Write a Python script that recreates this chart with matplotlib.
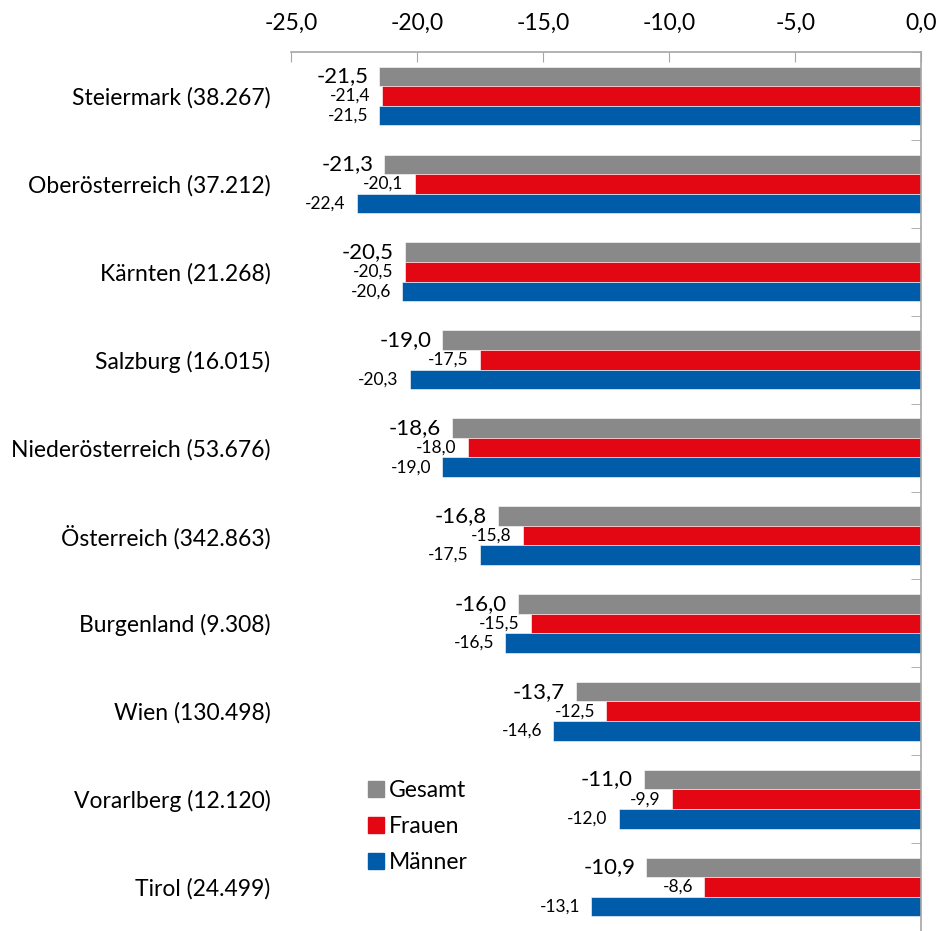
"""Decline by Bundesland, broken down into total, women and men."""
import matplotlib
matplotlib.use("Agg")

import matplotlib.pyplot as plt
import numpy as np
from matplotlib.patches import Patch
from matplotlib.ticker import FixedLocator, FuncFormatter

plt.rcParams["font.family"] = ["Lato", "DejaVu Sans"]

_GESAMT = "#898989"
_FRAUEN = "#e30613"
_MAENNER = "#005ca9"
_AXIS = "#a6a6a6"

REGIONS = [
    "Steiermark (38.267)",
    "Oberösterreich (37.212)",
    "Kärnten (21.268)",
    "Salzburg (16.015)",
    "Niederösterreich (53.676)",
    "Österreich (342.863)",
    "Burgenland (9.308)",
    "Wien (130.498)",
    "Vorarlberg (12.120)",
    "Tirol (24.499)",
]
GESAMT = [-21.5, -21.3, -20.5, -19.0, -18.6, -16.8, -16.0, -13.7, -11.0, -10.9]
FRAUEN = [-21.4, -20.1, -20.5, -17.5, -18.0, -15.8, -15.5, -12.5, -9.9, -8.6]
MAENNER = [-21.5, -22.4, -20.6, -20.3, -19.0, -17.5, -16.5, -14.6, -12.0, -13.1]
X_TICKS = [-25, -20, -15, -10, -5, 0]


def de(v):
    return f"{v:.1f}".replace(".", ",")


fig = plt.figure(figsize=(9.39, 9.31), dpi=100)
ax = fig.add_axes([0.31, 0.0, 0.671, 0.944])

y = np.arange(len(REGIONS))
h = 0.223
series = [
    (GESAMT, _GESAMT, -h, 16),
    (FRAUEN, _FRAUEN, 0.0, 12.5),
    (MAENNER, _MAENNER, h, 12.5),
]
for values, colour, off, fs in series:
    ax.barh(y + off, values, height=h, color=colour, edgecolor="white",
            linewidth=0.4)
    for yi, v in zip(y, values):
        ax.annotate(de(v), (v, yi + off), xytext=(-8, 0),
                    textcoords="offset points", ha="right", va="center",
                    fontsize=fs, color="black")

ax.set_xlim(-25, 0)
ax.set_ylim(len(REGIONS) - 0.5, -0.5)

ax.xaxis.set_ticks_position("top")
ax.xaxis.set_major_locator(FixedLocator(X_TICKS))
ax.xaxis.set_major_formatter(FuncFormatter(lambda v, _: de(v)))
ax.tick_params(axis="x", direction="in", length=7, color=_AXIS, pad=13,
               labelsize=16.5)

ax.set_yticks(y)
ax.set_yticklabels(REGIONS, fontsize=16.5)
ax.tick_params(axis="y", which="major", length=0, pad=15)
ax.yaxis.set_minor_locator(FixedLocator(np.arange(-0.5, len(REGIONS), 1.0)))
ax.tick_params(axis="y", which="minor", right=True, left=False,
               direction="in", length=7, color=_AXIS)

for side in ("left", "bottom"):
    ax.spines[side].set_visible(False)
for side in ("top", "right"):
    ax.spines[side].set_color(_AXIS)
    ax.spines[side].set_linewidth(1.2)

handles = [Patch(color=c) for c in (_GESAMT, _FRAUEN, _MAENNER)]
ax.legend(handles, ["Gesamt", "Frauen", "Männer"], loc="upper left",
          bbox_to_anchor=(0.09, 0.195), frameon=False, fontsize=16.5,
          handlelength=0.7, handleheight=0.7, handletextpad=0.2,
          labelspacing=0.65)

fig.savefig("out.png", dpi=100, facecolor="white")
